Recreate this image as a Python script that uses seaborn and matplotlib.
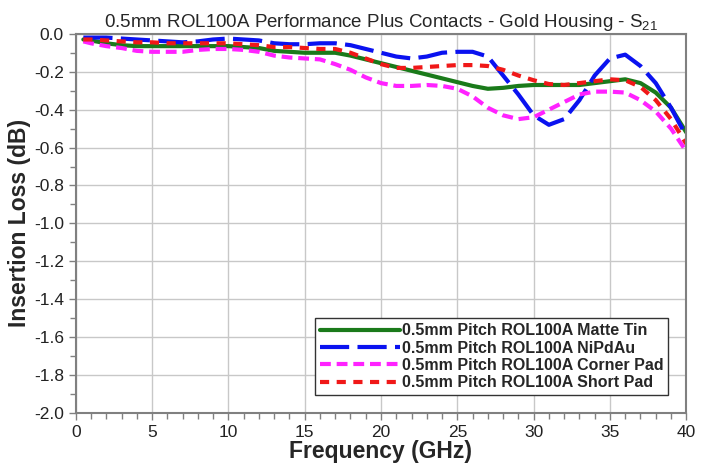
import pandas as pd
import seaborn as sns
import matplotlib.pyplot as plt
from matplotlib.ticker import MultipleLocator

# Frequency points (GHz)
freq = [0.5, 1, 2, 3, 4, 5, 6, 7, 8, 9, 10, 11, 12, 13, 14, 15, 16, 17, 18, 19, 20,
        21, 22, 23, 24, 25, 26, 27, 28, 29, 30, 31, 32, 33, 34, 35, 36, 37, 38, 39, 40]

# Insertion loss (dB) per contact variant
matte_tin = [-0.03, -0.035, -0.05, -0.06, -0.065, -0.065, -0.065, -0.065, -0.065, -0.065, -0.065,
             -0.07, -0.075, -0.09, -0.095, -0.10, -0.10, -0.10, -0.115, -0.135, -0.155,
             -0.175, -0.195, -0.215, -0.235, -0.255, -0.275, -0.29, -0.285, -0.275, -0.27,
             -0.27, -0.27, -0.27, -0.26, -0.25, -0.24, -0.26, -0.31, -0.39, -0.52]
nipdau = [-0.02, -0.02, -0.02, -0.025, -0.03, -0.035, -0.04, -0.045, -0.04, -0.03, -0.025,
          -0.03, -0.035, -0.05, -0.055, -0.055, -0.05, -0.05, -0.06, -0.08, -0.10,
          -0.12, -0.13, -0.12, -0.10, -0.095, -0.095, -0.12, -0.22, -0.32, -0.43,
          -0.48, -0.45, -0.35, -0.22, -0.13, -0.11, -0.17, -0.26, -0.39, -0.54]
corner_pad = [-0.04, -0.05, -0.065, -0.075, -0.09, -0.095, -0.095, -0.095, -0.085, -0.08, -0.08,
              -0.085, -0.095, -0.115, -0.125, -0.13, -0.135, -0.16, -0.19, -0.23, -0.26,
              -0.275, -0.275, -0.27, -0.275, -0.29, -0.33, -0.39, -0.43, -0.45, -0.44,
              -0.40, -0.36, -0.32, -0.305, -0.305, -0.31, -0.35, -0.41, -0.50, -0.62]
short_pad = [-0.03, -0.03, -0.035, -0.04, -0.045, -0.045, -0.05, -0.05, -0.05, -0.05, -0.05,
             -0.055, -0.06, -0.07, -0.07, -0.075, -0.08, -0.08, -0.10, -0.13, -0.16,
             -0.18, -0.18, -0.175, -0.17, -0.165, -0.165, -0.17, -0.19, -0.22, -0.245,
             -0.265, -0.27, -0.26, -0.25, -0.24, -0.245, -0.28, -0.35, -0.45, -0.58]

labels = ["0.5mm Pitch ROL100A Matte Tin", "0.5mm Pitch ROL100A NiPdAu",
          "0.5mm Pitch ROL100A Corner Pad", "0.5mm Pitch ROL100A Short Pad"]
series = [matte_tin, nipdau, corner_pad, short_pad]

df = pd.concat([pd.DataFrame({"Frequency": freq, "Loss": vals, "Series": lab})
                for lab, vals in zip(labels, series)], ignore_index=True)

sns.set_style("white")
plt.rcParams['font.family'] = ['Liberation Sans', 'DejaVu Sans']
plt.rcParams['mathtext.fontset'] = 'custom'
plt.rcParams['mathtext.rm'] = 'Liberation Sans'
plt.rcParams['mathtext.it'] = 'Liberation Sans'
plt.rcParams['axes.unicode_minus'] = False

palette = dict(zip(labels, ["#1a7a1a", "#0a12f0", "#ff22ff", "#f01818"]))
dashes = dict(zip(labels, ["", (7, 2), (2.6, 1.4), (2.2, 1.8)]))

fig = plt.figure(figsize=(7.01, 4.63), dpi=100)
ax = fig.add_axes([0.108, 0.108, 0.871, 0.819])

sns.lineplot(data=df, x="Frequency", y="Loss", hue="Series", style="Series",
             palette=palette, dashes=dashes, linewidth=3, ax=ax)

ax.set_xlim(0, 40)
ax.set_ylim(-2.0, 0.0)
ax.xaxis.set_major_locator(MultipleLocator(5))
ax.xaxis.set_minor_locator(MultipleLocator(1))
ax.yaxis.set_major_locator(MultipleLocator(0.2))
ax.yaxis.set_minor_locator(MultipleLocator(0.1))
ax.yaxis.set_major_formatter(plt.FormatStrFormatter('%.1f'))
ax.grid(True, which='major', color='#c8c8c8', linewidth=1)
ax.tick_params(which='both', direction='out', color='#808080', labelsize=12.5,
               labelcolor='#222222', bottom=True, left=True)
ax.tick_params(which='major', length=5, width=1)
ax.tick_params(which='minor', length=4, width=1)
for s in ax.spines.values():
    s.set_color('#808080')
    s.set_linewidth(1.5)

ax.set_xlabel("Frequency (GHz)", fontsize=16.5, fontweight='bold', labelpad=0)
ax.set_ylabel("Insertion Loss (dB)", fontsize=16.5, fontweight='bold', labelpad=2)
ax.set_title("0.5mm ROL100A Performance Plus Contacts - Gold Housing - S$_{21}$",
             fontsize=13.5, pad=5)

leg = ax.legend(loc='lower right', bbox_to_anchor=(0.97, 0.047), borderaxespad=0,
                fancybox=False, frameon=True, handlelength=5.0, handletextpad=0.1,
                borderpad=0.3, labelspacing=0.15,
                prop={'weight': 'bold', 'size': 11.5})
leg.get_frame().set_edgecolor('#333333')
leg.get_frame().set_linewidth(1)
leg.get_frame().set_alpha(1)

plt.savefig("out.png", dpi=100)
